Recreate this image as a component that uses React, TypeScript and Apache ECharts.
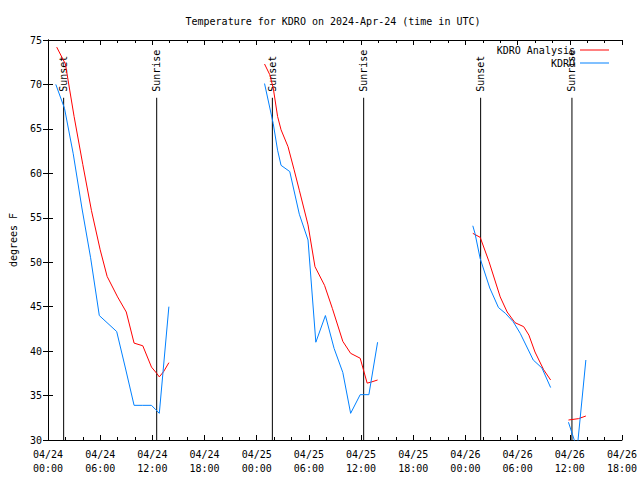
import React, { useEffect, useRef } from "react";
import * as echarts from "echarts";

// Hours since 2024-04-24 00:00 UTC, temperature in °F
const analysisDay1: number[][] = [
  [1.0, 74.2], [2.0, 72.3], [3.0, 66.4], [4.0, 61.0], [5.0, 55.8], [6.0, 51.4],
  [6.8, 48.4], [8.0, 46.1], [9.0, 44.4], [9.9, 40.9], [10.9, 40.6], [11.9, 38.2],
  [12.5, 37.5], [12.8, 37.1], [13.3, 37.7], [13.9, 38.7],
];
const analysisDay2: number[][] = [
  [24.9, 72.3], [25.5, 71.1], [25.9, 69.6], [26.4, 66.4], [26.8, 64.9], [27.6, 63.0],
  [28.3, 60.4], [28.9, 58.1], [29.9, 54.2], [30.7, 49.5], [31.8, 47.4], [32.7, 44.8],
  [33.9, 41.1], [34.8, 39.75], [35.9, 39.2], [36.7, 36.4], [37.1, 36.5], [37.9, 36.75],
];
const analysisDay3: number[][] = [
  [48.85, 53.25], [49.7, 52.8], [50.7, 50.1], [52.0, 46.1], [52.8, 44.4], [53.7, 43.2],
  [54.7, 42.75], [55.3, 41.8], [56.0, 39.9], [57.0, 37.9], [57.8, 36.75],
];
const analysisDay4: number[][] = [[59.85, 32.25], [61.0, 32.4], [61.85, 32.7]];

const obsDay1: number[][] = [
  [0.9, 70.0], [1.9, 67.3], [2.9, 62.2], [3.9, 56.1], [4.9, 50.5], [5.9, 44.0],
  [6.9, 43.1], [7.9, 42.2], [8.9, 38.1], [9.9, 33.9], [10.9, 33.9], [11.9, 33.9],
  [12.4, 33.4], [12.8, 33.0], [13.9, 45.0],
];
const obsDay2: number[][] = [
  [24.9, 70.1], [25.9, 65.6], [26.4, 62.6], [26.8, 60.9], [27.8, 60.2], [28.9, 55.4],
  [29.9, 52.5], [30.8, 41.0], [31.9, 44.0], [32.9, 40.3], [33.9, 37.6], [34.8, 33.0],
  [35.9, 35.1], [36.9, 35.1], [37.9, 41.0],
];
const obsDay3: number[][] = [
  [48.85, 54.1], [49.1, 53.25], [49.7, 50.4], [50.8, 47.1], [51.8, 44.9], [52.6, 44.25],
  [53.5, 43.3], [54.3, 42.0], [55.8, 39.0], [56.8, 38.1], [57.8, 35.9],
];
const obsDay4: number[][] = [[59.85, 32.0], [60.85, 29.0], [61.85, 39.0]];

const sunEventHours = [1.8, 12.5, 25.8, 36.3, 49.75, 60.25];
const sunEventNames = ["Sunset", "Sunrise", "Sunset", "Sunrise", "Sunset", "Sunrise"];
const sunLineTop = 68.5;

const xTickLabels = [
  "04/24\n00:00", "04/24\n06:00", "04/24\n12:00", "04/24\n18:00",
  "04/25\n00:00", "04/25\n06:00", "04/25\n12:00", "04/25\n18:00",
  "04/26\n00:00", "04/26\n06:00", "04/26\n12:00", "04/26\n18:00",
];

const FONT = "DejaVu Sans Mono";
const RED = "#ff0000";
const BLUE = "#0080ff";

export default function App() {
  const ref = useRef<HTMLDivElement>(null);
  useEffect(() => {
    if (!ref.current) return;
    const chart = echarts.init(ref.current, undefined, { renderer: "svg" });

    const textStyle = { fontFamily: FONT, fontSize: 10, color: "#000" };
    const baseX = {
      type: "value" as const,
      min: 0,
      max: 66,
      interval: 6,
      splitLine: { show: false },
      axisLine: { show: true, lineStyle: { color: "#000", width: 1 } },
      axisTick: { show: true, inside: true, length: 5, lineStyle: { color: "#000" } },
      minorTick: { show: true, splitNumber: 3, length: 3, lineStyle: { color: "#000" } },
    };
    const baseY = {
      type: "value" as const,
      min: 30,
      max: 75,
      interval: 5,
      splitLine: { show: false },
      axisLine: { show: true, lineStyle: { color: "#000", width: 1 } },
      axisTick: { show: true, inside: true, length: 5, lineStyle: { color: "#000" } },
    };

    const lineSeries = (name: string, color: string, data: number[][]) => ({
      type: "line",
      name,
      data,
      showSymbol: false,
      symbol: "none",
      lineStyle: { color, width: 1 },
      itemStyle: { color },
      silent: true,
      z: 3,
    });

    const sunSeries = sunEventHours.map((h, i) => ({
      type: "line",
      name: "sun" + i,
      data: [
        { value: [h, 30] },
        {
          value: [h, sunLineTop],
          label: {
            show: true,
            formatter: sunEventNames[i],
            position: "top",
            distance: 6,
            rotate: 90,
            align: "left",
            verticalAlign: "middle",
            ...textStyle,
          },
        },
      ],
      showSymbol: true,
      symbol: "circle",
      symbolSize: 0.01,
      lineStyle: { color: "#000", width: 1 },
      itemStyle: { color: "#000" },
      silent: true,
      z: 2,
    }));

    const legendBase = {
      orient: "vertical" as const,
      align: "right" as const,
      right: 31,
      padding: 0,
      itemWidth: 29,
      itemHeight: 1,
      icon: "rect",
      selectedMode: false,
      textStyle: { ...textStyle },
    };

    chart.setOption({
      animation: false,
      backgroundColor: "#fff",
      title: {
        text: "Temperature for KDRO on 2024-Apr-24 (time in UTC)",
        left: 328,
        textAlign: "center",
        top: 11,
        textStyle: { ...textStyle, fontWeight: "normal" },
      },
      legend: [
        { ...legendBase, data: ["KDRO Analysis"], top: 45 },
        { ...legendBase, data: ["KDRO"], top: 58 },
      ],
      grid: { left: 46, right: 18, top: 40, bottom: 40, containLabel: false },
      xAxis: [
        {
          ...baseX,
          position: "bottom",
          axisLabel: {
            ...textStyle,
            margin: 7,
            lineHeight: 14,
            showMinLabel: true,
            showMaxLabel: true,
            formatter: (v: number) => xTickLabels[Math.round(v / 6)] ?? "",
          },
        },
        { ...baseX, position: "top", axisLabel: { show: false } },
      ],
      yAxis: [
        {
          ...baseY,
          position: "left",
          name: "degrees F",
          nameLocation: "middle",
          nameGap: 30,
          nameTextStyle: { ...textStyle },
          axisLabel: { ...textStyle, margin: 6 },
        },
        { ...baseY, position: "right", axisLabel: { show: false } },
      ],
      series: [
        lineSeries("KDRO Analysis", RED, analysisDay1),
        lineSeries("KDRO Analysis", RED, analysisDay2),
        lineSeries("KDRO Analysis", RED, analysisDay3),
        lineSeries("KDRO Analysis", RED, analysisDay4),
        lineSeries("KDRO", BLUE, obsDay1),
        lineSeries("KDRO", BLUE, obsDay2),
        lineSeries("KDRO", BLUE, obsDay3),
        lineSeries("KDRO", BLUE, obsDay4),
        ...sunSeries,
      ],
    });
    return () => chart.dispose();
  }, []);
  return (
    <div
      ref={ref}
      style={{ position: "fixed", left: 0, top: 0, width: 640, height: 480, background: "#fff" }}
    />
  );
}
